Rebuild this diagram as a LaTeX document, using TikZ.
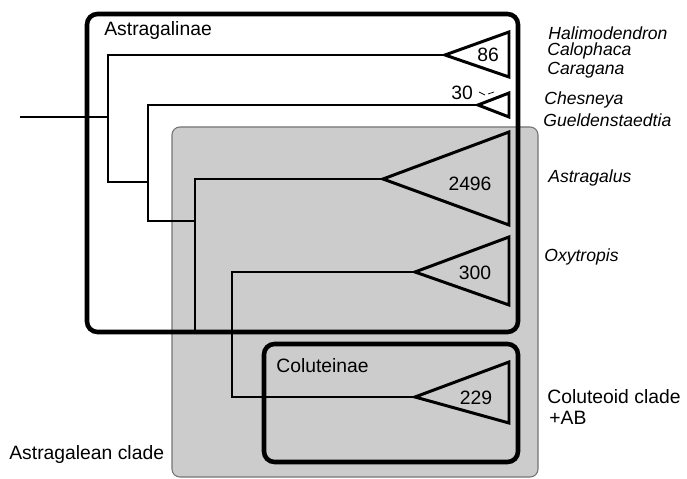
\documentclass[tikz,border=0pt]{standalone}
\usepackage{fontspec}
\setmainfont{Liberation Sans}
\usepackage{tikz}

\tikzset{
  branch/.style={line width=1.1pt},
  cladetri/.style={line width=1.7pt,line join=miter},
  groupbox/.style={line width=2.6pt,rounded corners=6pt},
  grouplabel/.style={anchor=west,inner sep=0pt},
  taxon/.style={anchor=west,inner sep=0pt,font=\itshape},
  count/.style={inner sep=0pt},
}

\begin{document}
\begin{tikzpicture}[x=0.02cm,y=-0.02cm,font=\fontsize{11}{13}\selectfont]
  \useasboundingbox (0,0) rectangle (687,479);
  % shaded Astragalean clade
  \draw[fill=black!20,draw=black!55,line width=0.6pt,rounded corners=4.5pt] (172,127) rectangle (538,477);
  \node[grouplabel] (astragalean) at (9,455) {Astragalean clade};

  \draw[groupbox] (87,14) rectangle (518,332);
  \node[grouplabel] (astragalinae) at (104,31) {Astragalinae};
  \draw[groupbox] (264,344) rectangle (518,462);
  \node[grouplabel] (coluteinae) at (276,366) {Coluteinae};

  % collapsed clades: name/tip x/tip y/top/bottom/count x/count y/size
  \foreach \name/\tx/\ty/\top/\bot/\cx/\cy/\size in
    {hal/445/55/32/77/488/55/86, ches/478/105/93/117/462/93/30,
     astr/383/179/132/225/470/184/2496, oxy/415/272/237/305/475/273/300,
     colu/415/397/362/423/476/398/229}{
    \coordinate (\name) at (\tx,\ty);
    \draw[cladetri] (\name) -- (509,\top) -- (509,\bot) -- cycle;
    \node[count] (\name-n) at (\cx,\cy) {\size};
  }
  \draw[line width=0.4pt] (479,92) -- (485,95) (488,94) -- (494,92);

  % backbone
  \coordinate (root) at (20,117);
  \coordinate (n1) at (108,117);
  \coordinate (n2) at (148,182);
  \coordinate (n3) at (195,221);
  \coordinate (n4) at (232,332);
  \draw[line width=0.9pt] (root) -- (n1);
  \draw[branch] (hal) -| (n1) |- (n2);
  \draw[branch] (ches) -| (n2) |- (n3);
  \draw[branch] (astr) -| (n3) |- (n4);
  \draw[branch] (oxy) -| (n4) |- (colu);

  % taxa
  \node[taxon] (halimodendron) at (548,33) {Halimodendron};
  \node[taxon] (calophaca) at (547,51) {Calophaca};
  \node[taxon] (caragana) at (547,70) {Caragana};
  \node[taxon] (chesneya) at (544,100) {Chesneya};
  \node[taxon] (gueldenstaedtia) at (543,120) {Gueldenstaedtia};
  \node[taxon] (astragalus) at (548,178) {Astragalus};
  \node[taxon] (oxytropis) at (544,257) {Oxytropis};
  \node[grouplabel] (coluteoid) at (547,397) {Coluteoid clade};
  \node[grouplabel] (ab) at (549,418) {+AB};
\end{tikzpicture}
\end{document}
